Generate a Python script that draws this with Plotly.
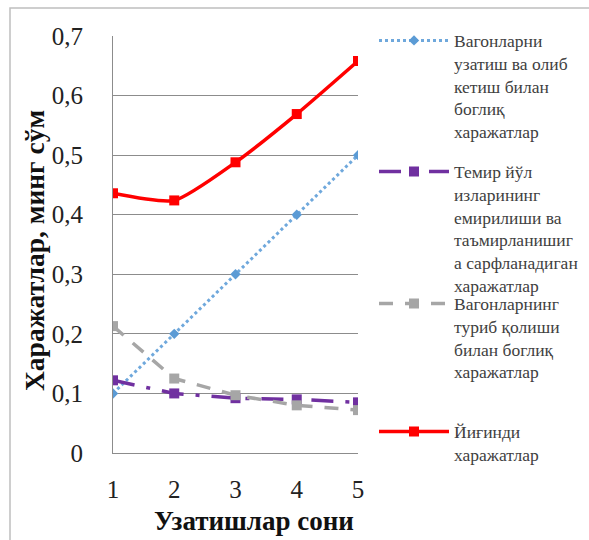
import plotly.graph_objects as go

x_vals = [1, 2, 3, 4, 5]
wagon_delivery = [0.1, 0.2, 0.3, 0.4, 0.5]
track_wear = [0.122, 0.1, 0.092, 0.09, 0.085]
wagon_idle = [0.213, 0.125, 0.097, 0.08, 0.072]
total_cost = [0.436, 0.424, 0.488, 0.569, 0.658]

names = [
    "Вагонларни<br>узатиш ва олиб<br>кетиш билан<br>боглиқ<br>харажатлар",
    "Темир йўл<br>изларининг<br>емирилиши ва<br>таъмирланишиг<br>а сарфланадиган<br>харажатлар",
    "Вагонларнинг<br>туриб қолиши<br>билан боглиқ<br>харажатлар",
    "Йиғинди<br>харажатлар",
]
x_title = "Узатишлар сони"
y_title = "Харажатлар, минг сўм"
y_ticks = [0, 0.1, 0.2, 0.3, 0.4, 0.5, 0.6, 0.7]
y_tick_labels = ["0", "0,1", "0,2", "0,3", "0,4", "0,5", "0,6", "0,7"]

W, H = 589, 540
L, R, T, B = 113, 358, 36, 453


def px(x):
    return (x - L) / (R - L)


def py(y):
    return (B - y) / (B - T)


serif = "Liberation Serif"

fig = go.Figure()
fig.add_trace(go.Scatter(
    x=x_vals, y=wagon_delivery, name=names[0], mode="lines+markers",
    line=dict(color="#6FA8DC", width=3, dash="dot"),
    marker=dict(symbol="diamond", size=8, color="#5B9BD5"),
    legend="legend", showlegend=True))
fig.add_trace(go.Scatter(
    x=x_vals, y=track_wear, name=names[1], mode="lines+markers",
    line=dict(color="#7030A0", width=3.5, dash="22px,12px,4px,12px"),
    marker=dict(symbol="square", size=10, color="#7030A0"),
    legend="legend2", showlegend=True))
fig.add_trace(go.Scatter(
    x=x_vals, y=wagon_idle, name=names[2], mode="lines+markers",
    line=dict(color="#A6A6A6", width=3.5, dash="14px,12px"),
    marker=dict(symbol="square", size=10, color="#A6A6A6"),
    legend="legend3", showlegend=True))
fig.add_trace(go.Scatter(
    x=x_vals, y=total_cost, name=names[3], mode="lines+markers",
    line=dict(color="#FF0000", width=3.5, shape="spline", smoothing=0.6),
    marker=dict(symbol="square", size=10, color="#FF0000"),
    legend="legend4", showlegend=True))

legend_common = dict(
    xanchor="left", yanchor="top", valign="top",
    font=dict(family=serif, size=17.5, color="#404040"),
    bgcolor="rgba(0,0,0,0)", borderwidth=0, itemwidth=70,
    visible=True,
)
lx = px(374)
fig.update_layout(
    showlegend=True,
    legend=dict(x=lx, y=py(22.5), **legend_common),
    legend2=dict(x=lx, y=py(153.5), **legend_common),
    legend3=dict(x=lx, y=py(285.5), **legend_common),
    legend4=dict(x=lx, y=py(413.5), **legend_common),
)

grid_color = "#8C8C8C"
fig.update_layout(
    width=W, height=H,
    margin=dict(l=L, r=W - R, t=T, b=H - B, autoexpand=False),
    paper_bgcolor="white", plot_bgcolor="white",
    font=dict(family=serif, color="#222222"),
    xaxis=dict(
        range=[1, 5], tickvals=x_vals, showgrid=False, zeroline=False,
        showline=True, linecolor=grid_color, linewidth=1,
        ticks="", ticklabelstandoff=14,
        tickfont=dict(family=serif, size=25, color="#222222"),
    ),
    yaxis=dict(
        range=[0, 0.7], tickvals=y_ticks, ticktext=y_tick_labels,
        showgrid=True, gridcolor=grid_color, gridwidth=1, zeroline=False,
        showline=True, linecolor=grid_color, linewidth=1,
        ticks="", ticklabelstandoff=24,
        tickfont=dict(family=serif, size=25, color="#222222"),
    ),
)

# axis titles placed as in the reference
fig.add_annotation(text=f"<b>{x_title}</b>", xref="paper", yref="paper",
                   x=px(254), y=py(521), xanchor="center", yanchor="middle",
                   showarrow=False,
                   font=dict(family=serif, size=27, color="#111111"))
fig.add_annotation(text=f"<b>{y_title}</b>", xref="paper", yref="paper",
                   x=px(34), y=py(251), xanchor="center", yanchor="middle",
                   textangle=-90, showarrow=False,
                   font=dict(family=serif, size=27.5, color="#111111"))

# outer frame (left and top edges visible)
fig.add_shape(type="rect", xref="paper", yref="paper",
              x0=px(10), x1=px(600), y0=py(560), y1=py(8),
              line=dict(color="#BFBFBF", width=1.5), layer="below")

fig.write_html("out.html")
